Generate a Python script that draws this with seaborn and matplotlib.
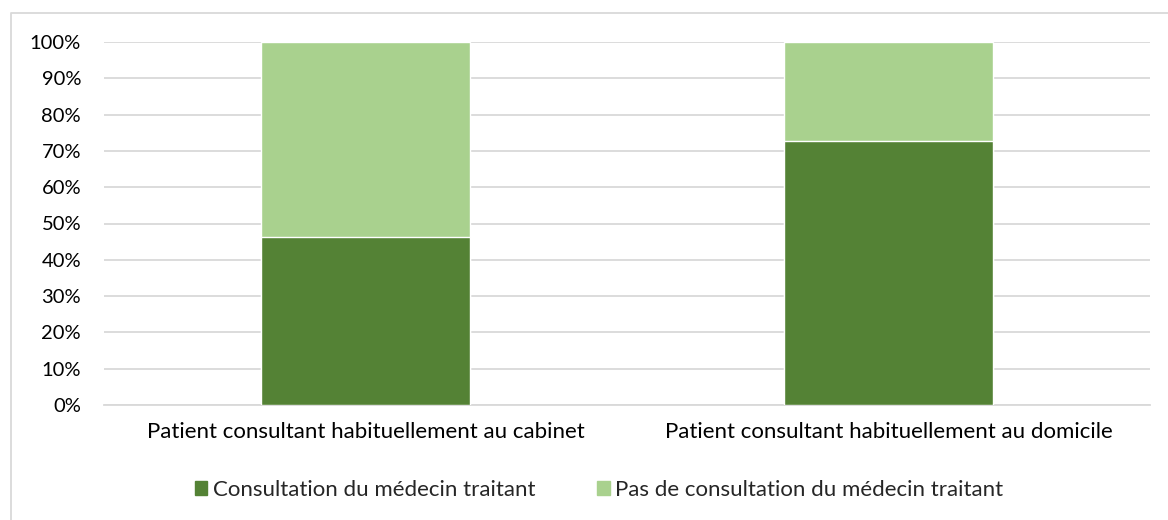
import matplotlib
matplotlib.use('Agg')
import matplotlib.pyplot as plt
import seaborn as sns
import pandas as pd
from matplotlib.lines import Line2D
from matplotlib.patches import Patch
from matplotlib.ticker import PercentFormatter

categories = ['Patient consultant habituellement au cabinet',
              'Patient consultant habituellement au domicile']
consultation = [46.4, 72.7]
pas_consultation = [53.6, 27.3]
series_names = ['Consultation du médecin traitant',
                'Pas de consultation du médecin traitant']
colors = ['#548235', '#A9D18E']

sns.set_theme(style='white')
plt.rcParams['font.family'] = ['Lato', 'DejaVu Sans']

df = pd.DataFrame({'cat': categories,
                   'consult': consultation,
                   'pas': pas_consultation})
df['total'] = df['consult'] + df['pas']

W, H = 1168, 520
fig = plt.figure(figsize=(W / 100, H / 100), dpi=100)
# axes spans x 104..1150 px, y 42..405 px
ax = fig.add_axes([104 / W, 1 - 405 / H, (1150 - 104) / W, (405 - 42) / H])

# stacked: total first (light), then the bottom part (dark) on top
sns.barplot(data=df, x='cat', y='total', color=colors[1], width=0.40,
            saturation=1, ax=ax, zorder=2)
sns.barplot(data=df, x='cat', y='consult', color=colors[0], width=0.40,
            saturation=1, ax=ax, zorder=3)

ax.set_ylim(0, 100)
ax.set_yticks(range(0, 101, 10))
ax.yaxis.set_major_formatter(PercentFormatter(decimals=0))
ax.grid(axis='y', color='#d9d9d9', linewidth=1.3, zorder=0)
ax.set_axisbelow(True)
for s in ['top', 'right', 'left']:
    ax.spines[s].set_visible(False)
ax.spines['bottom'].set_color('#d9d9d9')
ax.spines['bottom'].set_linewidth(1.3)
ax.set_xlabel('')
ax.set_ylabel('')
ax.tick_params(axis='y', length=0, labelsize=14.5, colors='#000000', pad=16.5)
ax.tick_params(axis='x', length=0, labelsize=16, colors='#000000', pad=12)

handles = [Patch(color=c, label=n) for c, n in zip(colors, series_names)]
fig.legend(handles=handles, loc='center', bbox_to_anchor=(599 / W, 1 - 490 / H), ncol=2,
           frameon=False, fontsize=16, handlelength=0.55, handleheight=0.55,
           handletextpad=0.25, columnspacing=2.8, borderpad=0)

# outer chart border (only top and left edges show in the crop)
fig.add_artist(Line2D([11 / W, 11 / W, 1.0], [0.0, 1 - 12.5 / H, 1 - 12.5 / H],
                      transform=fig.transFigure, color='#d9d9d9', linewidth=1.3))

fig.savefig('out.png', dpi=100)
